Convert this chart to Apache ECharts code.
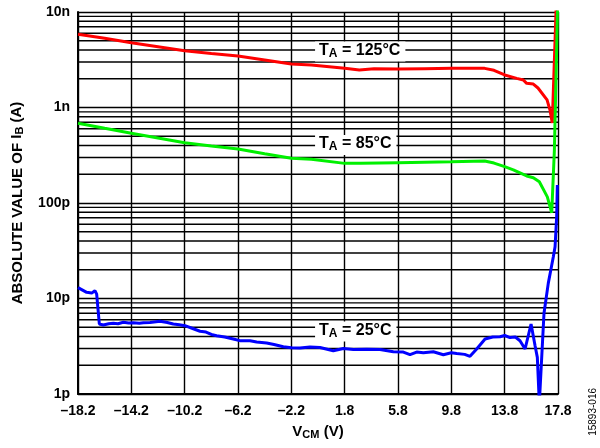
<!DOCTYPE html>
<html><head><meta charset="utf-8">
<script src="https://cdn.jsdelivr.net/npm/echarts@6/dist/echarts.min.js"></script>
<style>html,body{margin:0;padding:0;background:#fff}#c{width:600px;height:448px}</style>
</head><body><div id="c"></div>
<script>
// Tick labels
const xTickLabels = ['–18.2','–14.2','–10.2','–6.2','–2.2','1.8','5.8','9.8','13.8','17.8'];
const yTickLabels = ['1p','10p','100p','1n','10n'];

// T_A = 125°C
const vcm125 = [-18.2,-16.2,-14.2,-12.2,-10.2,-8.2,-6.2,-4.2,-2.2,-0.7,1.8,2.9,4.0,5.8,7.8,9.8,12.3,13.0,13.8,14.7,15.2,15.45,15.95,16.3,16.98,17.2,17.37,17.65,17.7];
const ib125  = [5.84e-9,5.3e-9,4.77e-9,4.33e-9,3.93e-9,3.68e-9,3.46e-9,3.15e-9,2.85e-9,2.79e-9,2.57e-9,2.47e-9,2.55e-9,2.53e-9,2.55e-9,2.57e-9,2.57e-9,2.45e-9,2.19e-9,2.02e-9,1.94e-9,1.79e-9,1.76e-9,1.6e-9,1.2e-9,9.4e-10,6.9e-10,1.0e-8,2.0e-8];

// T_A = 85°C
const vcm85 = [-18.2,-16.2,-14.2,-12.2,-10.2,-8.2,-6.2,-4.2,-2.2,-0.7,1.8,3.0,5.8,9.8,12.3,13.0,13.8,14.45,15.45,15.95,16.4,17.0,17.33,17.53,17.76,17.8];
const ib85  = [6.83e-10,6.05e-10,5.37e-10,4.8e-10,4.28e-10,3.95e-10,3.67e-10,3.28e-10,2.94e-10,2.87e-10,2.6e-10,2.6e-10,2.64e-10,2.7e-10,2.75e-10,2.62e-10,2.4e-10,2.22e-10,1.92e-10,1.84e-10,1.67e-10,1.16e-10,7.9e-11,3.6e-10,1.0e-8,2.0e-8];

// T_A = 25°C
const vcm25 = [-18.2,-18.05,-17.55,-17.17,-16.93,-16.8,-16.6,-16.3,-15.9,-15.55,-15.2,-14.8,-14.4,-14.05,-13.6,-13.3,-12.8,-12.05,-11.5,-11.05,-10.6,-10.18,-9.6,-9.05,-8.6,-8.2,-7.8,-7.2,-6.55,-6.0,-5.3,-4.8,-4.05,-3.5,-2.8,-2.2,-1.55,-0.8,-0.05,0.95,1.7,2.45,3.45,4.45,5.45,6.2,6.7,7.2,7.7,8.45,9.2,9.8,10.2,10.8,11.2,11.7,12.33,12.9,13.45,13.8,14.2,14.6,14.95,15.33,15.78,16.08,16.25,16.4,16.52,16.75,17.07,17.45,17.58,17.7,17.75];
const ib25  = [1.3e-11,1.29e-11,1.16e-11,1.14e-11,1.21e-11,1.11e-11,5.41e-12,5.28e-12,5.45e-12,5.5e-12,5.45e-12,5.63e-12,5.55e-12,5.58e-12,5.5e-12,5.58e-12,5.62e-12,5.77e-12,5.6e-12,5.41e-12,5.3e-12,5.19e-12,4.85e-12,4.54e-12,4.45e-12,4.2e-12,4.08e-12,3.95e-12,3.77e-12,3.6e-12,3.61e-12,3.5e-12,3.42e-12,3.3e-12,3.13e-12,3.05e-12,3.03e-12,3.1e-12,3.07e-12,2.84e-12,3.0e-12,2.92e-12,2.95e-12,2.92e-12,2.77e-12,2.75e-12,2.58e-12,2.75e-12,2.7e-12,2.77e-12,2.58e-12,2.7e-12,2.65e-12,2.6e-12,2.48e-12,2.96e-12,3.77e-12,3.95e-12,3.98e-12,4.1e-12,3.9e-12,3.95e-12,3.61e-12,2.96e-12,5.41e-12,3.2e-12,2.42e-12,8e-13,8e-13,7.0e-12,1.44e-11,2.74e-11,3.48e-11,7.2e-11,1.54e-10];

const XMIN = -18.2, XMAX = 17.8, XSTEP = 4;
function pts(xs, ys){ return xs.map((x,i)=>[x - XMIN, ys[i]]); }

// minor log gridlines (2..9 in each decade)
const minorVals = [];
for (let e = -12; e < -8; e++) for (let k = 2; k <= 9; k++) minorVals.push(k * Math.pow(10, e));

const FF = 'Liberation Sans, Arial, sans-serif';
const GRID = '#000';
const labelRich = {
  t: {fontSize: 16, fontWeight: 'bold', fontFamily: FF, color: '#000', lineHeight: 19, verticalAlign: 'top'},
  a: {fontSize: 12, fontWeight: 'bold', fontFamily: FF, color: '#000', lineHeight: 19, verticalAlign: 'top', padding: [5,0,0,0]}
};
function tempLabel(txt, x, y){
  return {
    symbol: 'rect', symbolSize: 0, silent: true,
    data: [{coord: [x - XMIN, y], value: 0,
      label: {show: true, position: 'right', distance: 0,
        formatter: '{t|T}{a|A}{t| = ' + txt + '}',
        backgroundColor: '#fff', padding: [1,5,0,4], rich: labelRich}}]
  };
}

const gridSeries = minorVals.map(v => ({
  type: 'line', data: [[0, v], [XMAX - XMIN, v]], z: 1, silent: true,
  showSymbol: false, symbol: 'none', animation: false,
  lineStyle: {color: GRID, width: 1.4}
}));

const chart = echarts.init(document.getElementById('c'), null, {renderer: 'canvas'});
chart.setOption({
  animation: false,
  backgroundColor: '#fff',
  grid: {left: 78, right: 42, top: 12, bottom: 54, containLabel: false},
  xAxis: {
    type: 'value', min: 0, max: XMAX - XMIN, interval: XSTEP,
    axisLine: {show: true, lineStyle: {color: '#000', width: 2}},
    axisTick: {show: false},
    splitLine: {show: true, lineStyle: {color: GRID, width: 1.4}},
    axisLabel: {margin: 10, color: '#000', fontSize: 14, fontWeight: 'bold', fontFamily: FF,
      formatter: v => xTickLabels[Math.round(v / XSTEP)]},
    name: '{b|V}{s|CM}{b| (V)}', nameLocation: 'middle', nameGap: 30,
    nameTextStyle: {rich: {
      b: {fontSize: 15, fontWeight: 'bold', fontFamily: FF, color: '#000', lineHeight: 18, verticalAlign: 'top'},
      s: {fontSize: 11, fontWeight: 'bold', fontFamily: FF, color: '#000', lineHeight: 18, verticalAlign: 'top', padding: [5,0,0,0]}
    }}
  },
  yAxis: {
    type: 'log', logBase: 10, min: 1e-12, max: 1e-8,
    axisLine: {show: true, lineStyle: {color: '#000', width: 2}},
    axisTick: {show: false},
    splitLine: {show: true, lineStyle: {color: GRID, width: 1.4}},
    axisLabel: {margin: 8, color: '#000', fontSize: 14, fontWeight: 'bold', fontFamily: FF,
      formatter: v => yTickLabels[Math.round(Math.log10(v)) + 12]},
    name: 'ABSOLUTE VALUE OF {b|I}{s|B}{b| (A)}', nameLocation: 'middle', nameGap: 54, nameRotate: 90,
    nameTextStyle: {fontSize: 15, fontWeight: 'bold', fontFamily: FF, color: '#000', lineHeight: 18, verticalAlign: 'top', rich: {
      b: {fontSize: 15, fontWeight: 'bold', fontFamily: FF, color: '#000', lineHeight: 18, verticalAlign: 'top'},
      s: {fontSize: 11, fontWeight: 'bold', fontFamily: FF, color: '#000', lineHeight: 18, verticalAlign: 'top', padding: [5,0,0,0]}
    }}
  },
  graphic: [{
    type: 'text', left: 588, top: 388, rotation: Math.PI / 2, origin: [0, 0],
    style: {text: '15893-016', fontSize: 10, fontFamily: FF, fill: '#000'}
  }],
  series: gridSeries.concat([
    {name: '125', type: 'line', data: pts(vcm125, ib125), showSymbol: false, z: 3,
      lineStyle: {color: '#ff0000', width: 3}, itemStyle: {color: '#ff0000'},
      markPoint: tempLabel('125°C', -0.42, 3.86e-9)},
    {name: '85', type: 'line', data: pts(vcm85, ib85), showSymbol: false, z: 3,
      lineStyle: {color: '#00f000', width: 3}, itemStyle: {color: '#00f000'},
      markPoint: tempLabel('85°C', -0.42, 4.05e-10)},
    {name: '25', type: 'line', data: pts(vcm25, ib25), showSymbol: false, z: 4,
      lineStyle: {color: '#0000ff', width: 3}, itemStyle: {color: '#0000ff'},
      markPoint: tempLabel('25°C', -0.42, 4.51e-12)}
  ])
});
</script></body></html>
